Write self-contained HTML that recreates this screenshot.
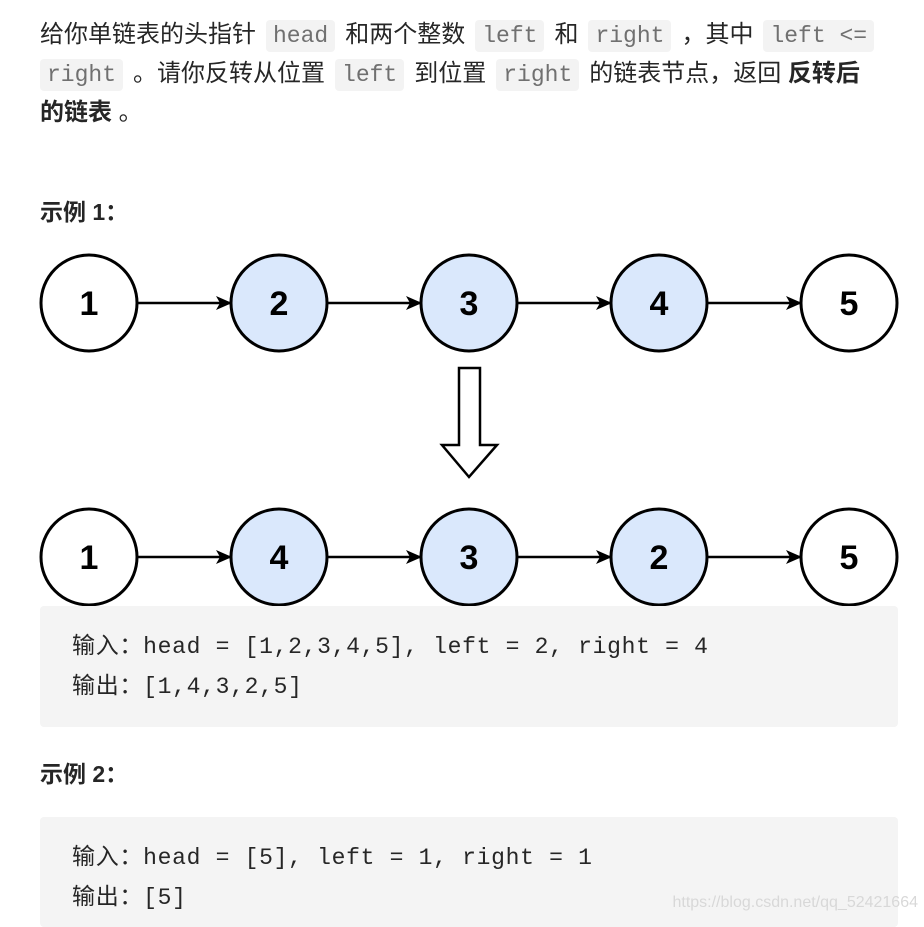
<!DOCTYPE html>
<html><head><meta charset="utf-8"><style>
html,body{margin:0;padding:0;background:#fff;}
body{width:924px;height:922px;position:relative;overflow:hidden;font-family:"Liberation Sans","Noto Sans CJK SC",sans-serif;color:#262626;}
.l{position:absolute;left:40px;font-size:24px;line-height:39px;white-space:nowrap;}
code{font-family:"Liberation Mono","Noto Sans CJK SC",monospace;font-size:23px;color:#707070;background:#f3f3f3;border-radius:4px;padding:3px 7px;margin:0 10px;}
b{font-weight:bold;}
h4{position:absolute;left:40px;margin:0;font-size:23px;line-height:30px;font-weight:bold;}
.pre{position:absolute;left:40px;width:858px;background:#f4f4f4;border-radius:4px;}
.pre div{position:absolute;left:32px;font-family:"Liberation Mono","Noto Sans CJK SC",monospace;font-size:23px;letter-spacing:0.7px;line-height:30px;white-space:nowrap;color:#262626;}
.wm{position:absolute;right:6px;top:894px;font-size:16px;color:#d8d8d8;font-family:"Liberation Sans",sans-serif;}
</style></head><body>
<div class="l" style="top:15px">给你单链表的头指针<code>head</code>和两个整数<code>left</code>和<code>right</code>，其中<code>left &lt;=</code></div>
<div class="l" style="top:54px;left:30px"><code>right</code>。请你反转从位置<code>left</code>到位置<code>right</code>的链表节点，返回 <b>反转后</b></div>
<div class="l" style="top:93px"><b>的链表</b> 。</div>
<h4 style="top:197px">示例 1：</h4>
<svg style="position:absolute;left:0;top:0" width="924" height="620" viewBox="0 0 924 620">
<defs><marker id="a" markerWidth="16" markerHeight="14" refX="15" refY="7" orient="auto" markerUnits="userSpaceOnUse"><path d="M0,0 L16,7 L0,14 L4,7 z" fill="#000"/></marker></defs>
<g stroke="#000" stroke-width="3">
<circle cx="89" cy="303" r="48" fill="#fff"/><circle cx="279" cy="303" r="48" fill="#dae8fc"/><circle cx="469" cy="303" r="48" fill="#dae8fc"/><circle cx="659" cy="303" r="48" fill="#dae8fc"/><circle cx="849" cy="303" r="48" fill="#fff"/>
<circle cx="89" cy="557" r="48" fill="#fff"/><circle cx="279" cy="557" r="48" fill="#dae8fc"/><circle cx="469" cy="557" r="48" fill="#dae8fc"/><circle cx="659" cy="557" r="48" fill="#dae8fc"/><circle cx="849" cy="557" r="48" fill="#fff"/>
<g stroke-width="2.5" marker-end="url(#a)">
<line x1="137" y1="303" x2="231" y2="303"/><line x1="327" y1="303" x2="421" y2="303"/><line x1="517" y1="303" x2="611" y2="303"/><line x1="707" y1="303" x2="801" y2="303"/>
<line x1="137" y1="557" x2="231" y2="557"/><line x1="327" y1="557" x2="421" y2="557"/><line x1="517" y1="557" x2="611" y2="557"/><line x1="707" y1="557" x2="801" y2="557"/>
</g>
<path d="M459,368 L480,368 L480,445 L497,445 L469,477 L442,445 L459,445 Z" fill="#fff" stroke-width="2.5"/>
</g>
<g font-family="Liberation Sans,sans-serif" font-size="34" font-weight="bold" text-anchor="middle" fill="#000">
<text x="89" y="315">1</text><text x="279" y="315">2</text><text x="469" y="315">3</text><text x="659" y="315">4</text><text x="849" y="315">5</text>
<text x="89" y="569">1</text><text x="279" y="569">4</text><text x="469" y="569">3</text><text x="659" y="569">2</text><text x="849" y="569">5</text>
</g>
</svg>
<div class="pre" style="top:606px;height:121px"><div style="top:26px">输入：head = [1,2,3,4,5], left = 2, right = 4</div><div style="top:66px">输出：[1,4,3,2,5]</div></div>
<h4 style="top:759px">示例 2：</h4>
<div class="pre" style="top:817px;height:110px"><div style="top:26px">输入：head = [5], left = 1, right = 1</div><div style="top:66px">输出：[5]</div></div>
<div class="wm">https://blog.csdn.net/qq_52421664</div>
</body></html>
